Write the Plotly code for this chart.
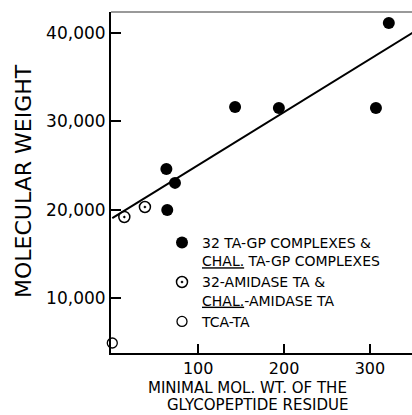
import plotly.graph_objects as go

# Glycopeptide residue (x) vs. molecular weight (y)
complex_x = [63, 64, 73, 143, 194, 307, 322]
complex_y = [24600, 19960, 23030, 31620, 31510, 31510, 41140]

amidase_x = [14, 38]
amidase_y = [19170, 20300]

tca_x = [0]
tca_y = [4900]

# Fitted straight line
fit_intercept = 19050
fit_slope = 60.0
fit_x = [0, 350]
fit_y = [fit_intercept + fit_slope * v for v in fit_x]

x_ticks = [100, 200, 300]
y_ticks = [10000, 20000, 30000, 40000]

FONT = "DejaVu Sans"

fig = go.Figure()

fig.add_trace(go.Scatter(
    x=fit_x, y=fit_y, mode="lines",
    line=dict(color="black", width=2), showlegend=False, hoverinfo="skip"))

fig.add_trace(go.Scatter(
    x=complex_x, y=complex_y, mode="markers",
    name="32 TA-GP COMPLEXES &amp;<br><u>CHAL.</u> TA-GP COMPLEXES",
    marker=dict(symbol="circle", size=12, color="black"), cliponaxis=False))

fig.add_trace(go.Scatter(
    x=amidase_x, y=amidase_y, mode="markers",
    name="32-AMIDASE TA &amp;<br><u>CHAL.</u>-AMIDASE TA",
    marker=dict(symbol="circle-open-dot", size=11, color="black",
                line=dict(width=1.5, color="black")), cliponaxis=False))

fig.add_trace(go.Scatter(
    x=tca_x, y=tca_y, mode="markers",
    name="TCA-TA",
    marker=dict(symbol="circle", size=10, color="white",
                line=dict(width=1.3, color="black")), cliponaxis=False))

L, T, B, W, H = 111, 12, 62, 412, 415
pw = W - L
ph = H - T - B

def px(xp):
    return (xp - L) / pw

def py(yp):
    return (H - B - yp) / ph

fig.update_layout(
    width=W, height=H,
    margin=dict(l=L, r=0, t=T, b=B),
    paper_bgcolor="white", plot_bgcolor="white",
    font=dict(family=FONT, color="black", size=16),
    xaxis=dict(range=[-1.5, 349], tickvals=x_ticks, ticks="inside", ticklen=9,
               tickwidth=1.5, tickcolor="black", showline=True, linecolor="black",
               linewidth=1.5, showgrid=False, zeroline=False,
               tickfont=dict(size=16)),
    yaxis=dict(range=[3770, 42375], tickvals=y_ticks, tickformat=",d",
               ticks="inside", ticklen=10, tickwidth=1.5, tickcolor="black",
               showline=True, linecolor="black", linewidth=2, showgrid=False,
               zeroline=False, tickfont=dict(size=17)),
    legend=dict(x=px(162), y=py(227), xanchor="left", yanchor="top",
                font=dict(size=14, family=FONT), valign="top",
                bgcolor="rgba(0,0,0,0)", borderwidth=0, tracegroupgap=0),
    showlegend=True,
)

# Top frame line
fig.add_shape(type="line", xref="paper", yref="paper", x0=0, x1=1, y0=1, y1=1,
              line=dict(color="#777777", width=1.5))

fig.add_annotation(text="MOLECULAR WEIGHT", xref="paper", yref="paper",
                   x=px(23), y=py(181), textangle=-90, showarrow=False,
                   xanchor="center", yanchor="middle", font=dict(size=22))
fig.add_annotation(text="MINIMAL MOL. WT. OF THE", xref="paper", yref="paper",
                   x=px(247), y=py(388), showarrow=False,
                   xanchor="center", yanchor="middle", font=dict(size=15))
fig.add_annotation(text="GLYCOPEPTIDE RESIDUE", xref="paper", yref="paper",
                   x=px(257), y=py(405), showarrow=False,
                   xanchor="center", yanchor="middle", font=dict(size=15))

fig.write_html("out.html")
